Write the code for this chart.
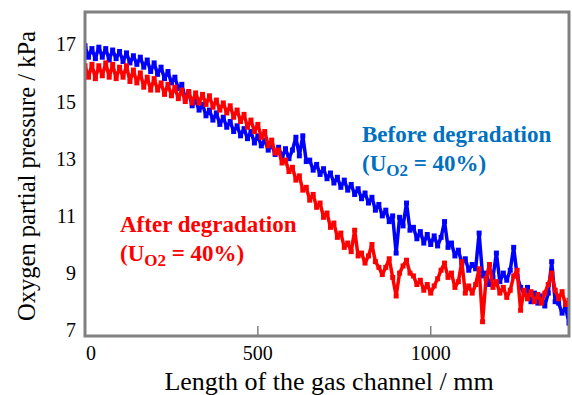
<!DOCTYPE html>
<html>
<head>
<meta charset="utf-8">
<script src="https://cdn.jsdelivr.net/npm/d3@7"></script>
<style>
  body { margin: 0; background: #fff; }
</style>
</head>
<body>
<div id="chart"></div>
<script>
// channel position in mm, one sample every 10 mm
const positions = d3.range(0, 1401, 10);

// oxygen partial pressure (kPa)
const beforeValues = [
  16.95, 16.55, 16.85, 16.5, 16.9, 16.55, 16.85, 16.45, 16.8, 16.5,
  16.75, 16.4, 16.7, 16.35, 16.6, 16.3, 16.55, 16.2, 16.45, 16.05,
  16.35, 15.95, 16.2, 15.8, 16.05, 15.65, 15.85, 15.45, 15.6, 15.1,
  15.3, 14.85, 15.05, 14.7, 14.9, 14.5, 14.7, 14.35, 14.6, 14.2,
  14.45, 14.1, 14.3, 13.95, 14.15, 13.8, 14.05, 13.7, 13.95, 13.55,
  13.8, 13.45, 13.65, 13.3, 13.5, 13.15, 13.4, 13.05, 13.35, 13.0,
  13.3, 13.75, 13.1, 13.8, 12.9, 12.95, 12.6, 12.8, 12.45, 12.65,
  12.3, 12.5, 12.15, 12.35, 12.0, 12.25, 11.9, 12.1, 11.75, 11.95,
  11.6, 11.8, 11.45, 11.65, 11.2, 11.4, 11.0, 11.2, 10.8, 11.0,
  9.7, 10.95, 10.65, 11.45, 10.5, 10.6, 10.2, 10.45, 10.05, 10.35,
  10.0, 10.3, 9.95, 10.25, 10.8, 9.9, 10.05, 9.6, 9.8, 9.35,
  9.5, 9.1, 9.3, 9.15, 10.4, 8.9, 9.0, 8.6, 8.85, 9.7,
  8.7, 9.0, 8.75, 9.1, 9.9, 8.9, 8.5, 8.3, 8.5, 8.0,
  8.3, 7.95, 8.2, 7.85, 8.3, 9.4, 8.0, 7.95, 7.6, 7.8,
  7.25
];

const afterValues = [
  16.25, 15.85, 16.3, 15.8, 16.25, 15.9, 16.35, 15.85, 16.3, 15.8,
  16.2, 15.85, 16.25, 15.7, 16.1, 15.65, 16.0, 15.5, 15.85, 15.4,
  15.8, 15.4, 15.65, 15.25, 15.6, 15.2, 15.5, 15.1, 15.4, 15.0,
  15.35, 14.95, 15.3, 14.95, 15.25, 14.9, 15.2, 14.8, 15.05, 14.7,
  14.95, 14.6, 14.85, 14.45, 14.7, 14.3, 14.55, 14.1, 14.35, 13.95,
  14.2, 13.75, 13.95, 13.45, 13.65, 13.2, 13.3, 12.85, 12.95, 12.55,
  12.7, 12.25, 12.4, 11.9, 12.0, 11.55, 11.75, 11.3, 11.45, 10.95,
  11.1, 10.6, 10.75, 10.25, 10.4, 9.9, 10.05, 9.75, 10.5, 9.6,
  9.7, 9.35, 9.6, 10.0, 9.4, 9.2, 8.95, 9.2, 9.5, 8.85,
  8.2, 9.0, 9.25, 9.45, 9.0, 8.9, 8.6, 8.75, 8.4, 8.6,
  8.3, 8.55, 8.8, 9.1, 9.35, 8.85, 9.0, 8.5, 8.7, 9.4,
  8.3, 8.55, 8.3, 8.6, 9.15, 7.3, 8.8, 9.3, 8.5, 8.7,
  8.3, 8.5, 8.15, 8.4, 8.9, 9.1, 7.7, 8.4, 8.1, 8.35,
  8.0, 8.25, 7.95, 8.3, 8.6, 9.0, 8.4, 8.1, 8.35, 7.9,
  8.05
];

const xTicks = [0, 500, 1000];
const yTicks = [7, 9, 11, 13, 15, 17];

const FONT = "Liberation Serif";
const width = 572;
const height = 395;
const margin = { top: 12, right: 3, bottom: 59, left: 85 };

const svg = d3
  .select("#chart")
  .append("svg")
  .attr("width", width)
  .attr("height", height)
  .style("display", "block");

const x = d3
  .scaleLinear()
  .domain([0, 1400])
  .range([margin.left, width - margin.right]);

const y = d3
  .scaleLinear()
  .domain([6.8, 18.13])
  .range([height - margin.bottom, margin.top]);

svg
  .append("clipPath")
  .attr("id", "plot-clip")
  .append("rect")
  .attr("x", x(0))
  .attr("y", margin.top)
  .attr("width", x(1400) - x(0))
  .attr("height", y(6.8) - margin.top);

const line = d3
  .line()
  .x((d) => x(d[0]))
  .y((d) => y(d[1]));

const series = [
  { values: beforeValues, color: "#0000ff" },
  { values: afterValues, color: "#ff0000" },
];

const plot = svg.append("g").attr("clip-path", "url(#plot-clip)");

series.forEach((s) => {
  const pts = positions.map((p, i) => [p, s.values[i]]);
  plot
    .append("path")
    .datum(pts)
    .attr("fill", "none")
    .attr("stroke", s.color)
    .attr("stroke-width", 3.5)
    .attr("stroke-linejoin", "round")
    .attr("d", line);
  // small square markers, like the sampled points in the original
  plot
    .append("g")
    .selectAll("rect")
    .data(pts)
    .enter()
    .append("rect")
    .attr("x", (d) => x(d[0]) - 2.5)
    .attr("y", (d) => y(d[1]) - 2.5)
    .attr("width", 5)
    .attr("height", 5)
    .attr("fill", s.color);
});

// plot frame
svg
  .append("rect")
  .attr("x", x(0))
  .attr("y", margin.top)
  .attr("width", x(1400) - x(0))
  .attr("height", y(6.8) - margin.top)
  .attr("fill", "none")
  .attr("stroke", "#808080")
  .attr("stroke-width", 3);

// inward ticks on the x axis
svg
  .append("g")
  .selectAll("line")
  .data(xTicks.slice(1))
  .enter()
  .append("line")
  .attr("x1", (d) => x(d))
  .attr("x2", (d) => x(d))
  .attr("y1", y(6.8))
  .attr("y2", y(6.8) - 10)
  .attr("stroke", "#808080")
  .attr("stroke-width", 1.5);

svg
  .append("g")
  .selectAll("text")
  .data(xTicks)
  .enter()
  .append("text")
  .attr("x", (d) => x(d) + (d === 0 ? 6 : 0))
  .attr("y", 360)
  .attr("text-anchor", "middle")
  .style("font-family", FONT)
  .style("font-size", "20px")
  .text((d) => d);

svg
  .append("g")
  .selectAll("text")
  .data(yTicks)
  .enter()
  .append("text")
  .attr("x", 76)
  .attr("y", (d) => y(d) + 7)
  .attr("text-anchor", "end")
  .style("font-family", FONT)
  .style("font-size", "20px")
  .text((d) => d);

svg
  .append("text")
  .attr("x", 329)
  .attr("y", 390)
  .attr("text-anchor", "middle")
  .style("font-family", FONT)
  .style("font-size", "26px")
  .text("Length of the gas channel / mm");

svg
  .append("text")
  .attr("transform", "translate(35,176) rotate(-90)")
  .attr("text-anchor", "middle")
  .style("font-family", FONT)
  .style("font-size", "24.5px")
  .text("Oxygen partial pressure / kPa");

function label(px, py, title, color) {
  const g = svg
    .append("g")
    .style("fill", color)
    .style("font-family", FONT)
    .style("font-weight", "bold")
    .style("font-size", "23px");
  g.append("text").attr("x", px).attr("y", py).text(title);
  const t = g.append("text").attr("x", px).attr("y", py + 29);
  t.append("tspan").text("(U");
  t.append("tspan").attr("dy", 5).style("font-size", "17px").text("O2");
  t.append("tspan").attr("dy", -5).text(" = 40%)");
}

label(362, 142, "Before degradation", "#0070c0");
label(120, 232, "After degradation", "#ff0000");
</script>
</body>
</html>
